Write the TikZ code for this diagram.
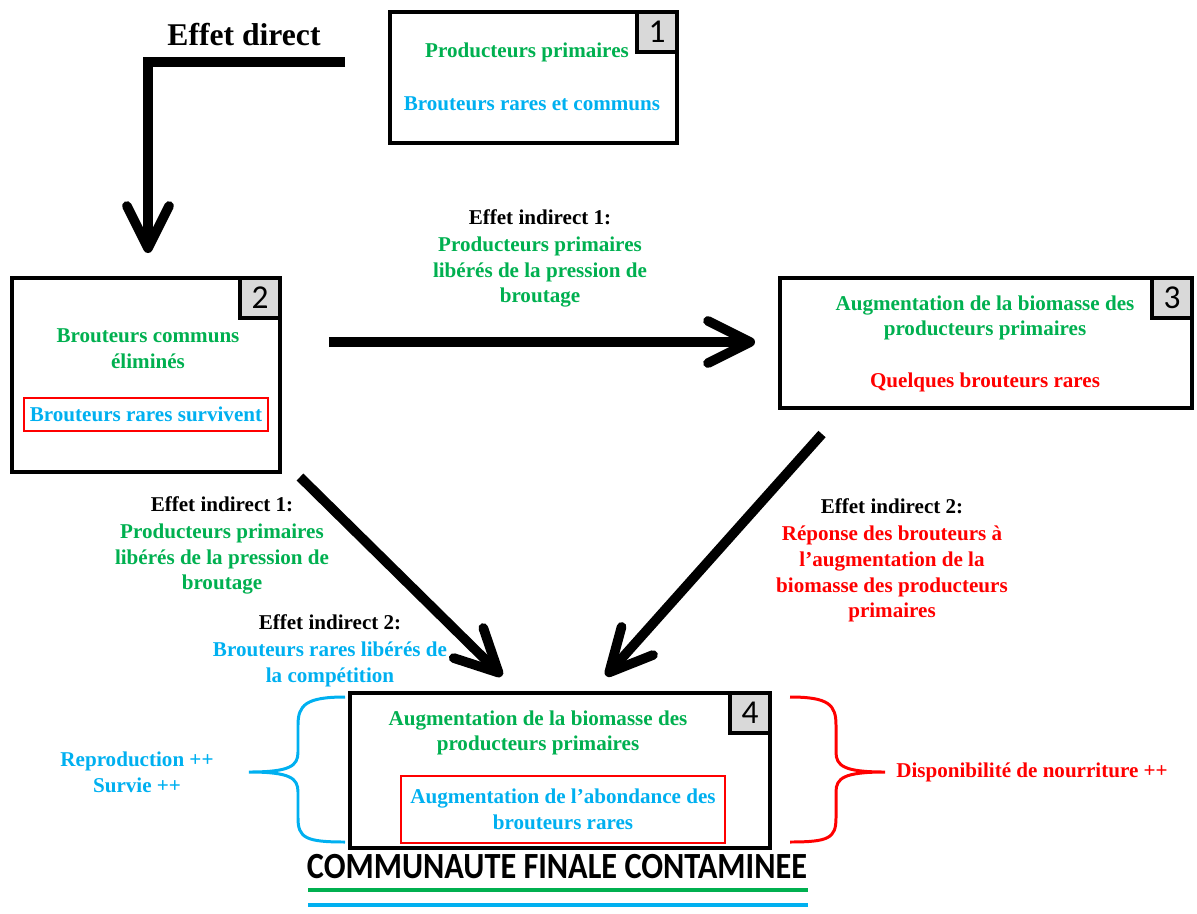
\documentclass[tikz,border=0pt]{standalone}
\usepackage{fontspec}
\setmainfont{Liberation Serif}
\newfontfamily\numfont{Carlito}
\newfontfamily\titlefont[FakeStretch=0.875]{Carlito}
\usetikzlibrary{positioning, calc, arrows.meta}
\definecolor{PrimGreen}{RGB}{0,176,80}
\definecolor{GrazBlue}{RGB}{0,176,240}
\definecolor{GrazRed}{RGB}{255,0,0}
\definecolor{NumGray}{RGB}{217,217,217}
\tikzset{
    stagebox/.style={
        draw, line width=2.3pt, fill=white, inner sep=0pt
    },
    numbox/.style={
        draw, line width=2.3pt, fill=NumGray, minimum size=0.8cm, inner sep=0pt,
        anchor=north east, font=\numfont\fontsize{19}{19}\selectfont
    },
    redframe/.style={
        draw=GrazRed, line width=0.8pt, inner sep=0pt
    },
    lbl/.style={
        font=\bfseries\fontsize{12}{14.7}\selectfont, align=center, inner sep=0pt
    },
    effarrow/.style={
        line width=5.5pt, -{Straight Barb[length=24pt, width=24pt, round]}
    },
    bracket/.style={
        line width=1.7pt
    }
}

\begin{document}
\begin{tikzpicture}[x=0.02cm, y=-0.02cm]
\useasboundingbox (0,0) rectangle (1197,913);

% stage 1
\node[stagebox, minimum width=5.74cm, minimum height=2.62cm] (s1) at (533.5,77.5) {};
\node[numbox] (n1) at (s1.north east) {1};
\node[lbl, PrimGreen] (s1prod) at (527,52) {Producteurs primaires};
\node[lbl, GrazBlue] (s1graz) at (532,104) {Brouteurs rares et communs};

% stage 2
\node[stagebox, minimum width=5.36cm, minimum height=3.88cm] (s2) at (146,375) {};
\node[numbox] (n2) at (s2.north east) {2};
\node[lbl, PrimGreen] (s2comm) at (148,349) {Brouteurs communs\\éliminés};
\node[redframe, minimum width=4.88cm, minimum height=0.66cm] (s2frame) at (146,414.5) {};
\node[lbl, GrazBlue] (s2rare) at (s2frame) {Brouteurs rares survivent};

% stage 3
\node[stagebox, minimum width=8.24cm, minimum height=2.6cm] (s3) at (986,343) {};
\node[numbox] (n3) at (s3.north east) {3};
\node[lbl, PrimGreen] (s3prod) at (985,318) {Augmentation de la biomasse des\\producteurs primaires};
\node[lbl, GrazRed] (s3rare) at (985,382) {Quelques brouteurs rares};

% stage 4
\node[stagebox, minimum width=8.4cm, minimum height=3.1cm] (s4) at (560,770.5) {};
\node[numbox] (n4) at (s4.north east) {4};
\node[lbl, PrimGreen] (s4prod) at (538,733) {Augmentation de la biomasse des\\producteurs primaires};
\node[redframe, minimum width=6.48cm, minimum height=1.34cm] (s4frame) at (563,809.5) {};
\node[lbl, GrazBlue] (s4rare) at (s4frame) {Augmentation de l’abondance des\\brouteurs rares};

% effects
\node[font=\bfseries\fontsize{18}{18}\selectfont, inner sep=0pt] (direct) at (244,35) {Effet direct};
\coordinate (d0) at ($(s1.west)+(-43,-15.5)$);
\coordinate (d1) at ($(s2.north)+(2,-23)$);
\draw[effarrow] (d0) -| (d1);

\node[lbl] (ind1) at (540,217) {Effet indirect 1:};
\node[lbl, PrimGreen, below=6.5pt of ind1] (ind1txt) {Producteurs primaires\\libérés de la pression de\\broutage};
\draw[effarrow] ($(s2.east)+(47,-33)$) -- ($(s3.west)+(-23,-1)$);

\node[lbl] (ind1b) at (222,504) {Effet indirect 1:};
\node[lbl, PrimGreen, below=6.5pt of ind1b] (ind1btxt) {Producteurs primaires\\libérés de la pression de\\broutage};
\node[lbl] (ind2b) at (330,622) {Effet indirect 2:};
\node[lbl, GrazBlue, below=6.5pt of ind2b] (ind2btxt) {Brouteurs rares libérés de\\la compétition};
\draw[effarrow] ($(s2.south east)+(18,3)$) -- ($(s4.north)+(-58,-15)$);

\node[lbl] (ind2r) at (892,506) {Effet indirect 2:};
\node[lbl, GrazRed, below=6.5pt of ind2r] (ind2rtxt) {Réponse des brouteurs à\\l’augmentation de la\\biomasse des producteurs\\primaires};
\draw[effarrow] ($(s3.south)+(-164,24)$) -- ($(s4.north)+(46,-15)$);

% braces
\draw[bracket, GrazBlue] (345,697) .. controls (306,697) and (298,705) .. (298,725) -- (298,752)
    .. controls (298,766) and (290,772) .. (249,772) .. controls (290,772) and (298,778) .. (298,792)
    -- (298,818) .. controls (298,838) and (306,842) .. (345,842);
\node[lbl, GrazBlue] (repro) at (137,772) {Reproduction ++\\Survie ++};
\draw[bracket, GrazRed] (790,697) .. controls (829,697) and (836,705) .. (836,725) -- (836,752)
    .. controls (836,766) and (844,772) .. (885,772) .. controls (844,772) and (836,778) .. (836,792)
    -- (836,818) .. controls (836,838) and (829,842) .. (790,842);
\node[lbl, GrazRed] (food) at (1032,772) {Disponibilité de nourriture ++};

% title
\node[font=\titlefont\bfseries\fontsize{21}{21}\selectfont, inner sep=0pt] (title) at (557,867) {COMMUNAUTE FINALE CONTAMINEE};
\draw[line width=2.8pt, PrimGreen] (308,890) -- (808,890);
\draw[line width=2.8pt, GrazBlue] (308,905) -- (808,905);
\end{tikzpicture}
\end{document}
